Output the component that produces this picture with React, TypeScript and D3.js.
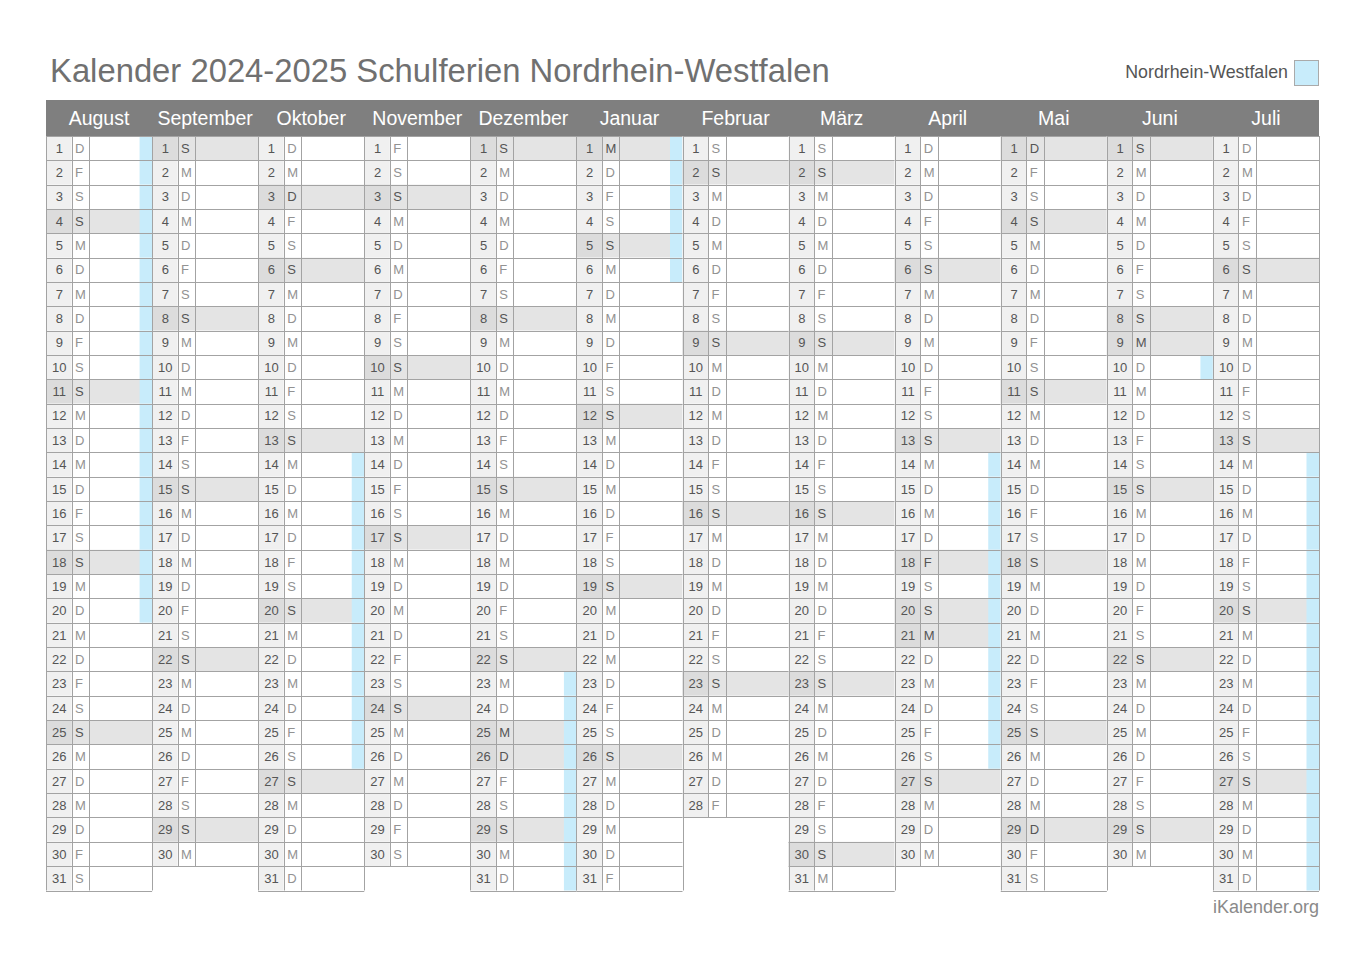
import React from "react";
import * as d3 from "d3";

const TITLE = "Kalender 2024-2025 Schulferien Nordrhein-Westfalen";
const LEGEND_LABEL = "Nordrhein-Westfalen";
const FOOTER = "iKalender.org";

const MONTH_NAMES = ["August", "September", "Oktober", "November", "Dezember", "Januar", "Februar", "März", "April", "Mai", "Juni", "Juli"];
const MONTH_YEARS = [2024, 2024, 2024, 2024, 2024, 2025, 2025, 2025, 2025, 2025, 2025, 2025];
const MONTH_INDEX = [7, 8, 9, 10, 11, 0, 1, 2, 3, 4, 5, 6];
const WEEKDAY_LETTERS = ["S", "M", "D", "M", "D", "F", "S"]; // So..Sa
const PUBLIC_HOLIDAYS = ["2024-10-03", "2024-12-25", "2024-12-26", "2025-01-01", "2025-04-18", "2025-04-21", "2025-05-01", "2025-05-29", "2025-06-09"];
const SCHOOL_HOLIDAY_START = ["2024-07-08", "2024-10-14", "2024-12-23", "2025-04-14", "2025-06-10", "2025-07-14"];
const SCHOOL_HOLIDAY_END = ["2024-08-20", "2024-10-26", "2025-01-06", "2025-04-26", "2025-06-10", "2025-08-26"];
const DAY_NUMBERS = d3.range(1, 32);

const FONT = "'Liberation Sans', Arial, Helvetica, sans-serif";

function iso(y: number, m: number, d: number) {
  return `${y}-${String(m + 1).padStart(2, "0")}-${String(d).padStart(2, "0")}`;
}

export default function App() {
  const x = d3.scaleBand<string>().domain(MONTH_NAMES).range([46, 1319]).padding(0);
  const y = d3.scaleBand<number>().domain(DAY_NUMBERS).range([136, 890.5]).padding(0);
  const colW = x.bandwidth();
  const rowH = y.bandwidth();
  const numW = 25.5;
  const letW = 17.5;
  const stripW = 12.5;

  const holidaySet = new Set(PUBLIC_HOLIDAYS);
  const inSchool = (s: string) =>
    SCHOOL_HOLIDAY_START.some((st, i) => s >= st && s <= SCHOOL_HOLIDAY_END[i]);

  const months = MONTH_NAMES.map((name, i) => {
    const yr = MONTH_YEARS[i];
    const mi = MONTH_INDEX[i];
    const nDays = new Date(Date.UTC(yr, mi + 1, 0)).getUTCDate();
    const days = d3.range(1, nDays + 1).map((d) => {
      const wd = new Date(Date.UTC(yr, mi, d)).getUTCDay();
      const key = iso(yr, mi, d);
      return {
        d,
        letter: WEEKDAY_LETTERS[wd],
        shaded: wd === 0 || holidaySet.has(key),
        school: inSchool(key),
      };
    });
    return { name, days };
  });

  const lineColor = "#a3a3a3";

  return (
    <svg width={1366} height={965} style={{ position: "absolute", left: 0, top: 0, background: "#fff" }} fontFamily={FONT}>
      <text x={50} y={82} fontSize={32.8} fill="#707070">{TITLE}</text>
      <text x={1288} y={78} fontSize={17.8} fill="#555" textAnchor="end">{LEGEND_LABEL}</text>
      <rect x={1294.5} y={60.5} width={24} height={25} fill="#c8ecfb" stroke="#aaa" />

      <rect x={46} y={100} width={1273} height={36} fill="#7f7f7f" />
      {months.map((m) => (
        <text key={m.name} x={(x(m.name) as number) + colW / 2} y={124.5} fontSize={19.5} fill="#fff" textAnchor="middle">{m.name}</text>
      ))}

      {months.map((m) => {
        const x0 = x(m.name) as number;
        const last = m.days.length;
        return (
          <g key={m.name}>
            {m.days.map((dd) => {
              const y0 = y(dd.d) as number;
              return (
                <g key={dd.d}>
                  <rect x={x0} y={y0} width={colW} height={rowH} fill={dd.shaded ? "#e4e4e4" : "#fff"} />
                  <rect x={x0} y={y0} width={numW} height={rowH} fill={dd.shaded ? "#dcdcdc" : "#f0f0f0"} />
                  {dd.school && (
                    <rect x={x0 + colW - stripW} y={y0} width={stripW} height={rowH} fill="#c8ecfb" />
                  )}
                </g>
              );
            })}
            {d3.range(1, last + 2).map((k) => {
              const yy = k <= last ? (y(k) as number) : (y(last) as number) + rowH;
              return <line key={"h" + k} x1={x0} x2={x0 + colW} y1={Math.round(yy) + 0.5} y2={Math.round(yy) + 0.5} stroke={lineColor} strokeWidth={1} />;
            })}
            {[0, numW, numW + letW, colW].map((dx, k) => (
              <line key={"v" + k} x1={Math.round(x0 + dx) + 0.5} x2={Math.round(x0 + dx) + 0.5} y1={y(1) as number} y2={(y(last) as number) + rowH} stroke={lineColor} strokeWidth={1} />
            ))}
            {m.days.map((dd) => {
              const cy = (y(dd.d) as number) + rowH / 2 + 4.6;
              return (
                <g key={"t" + dd.d}>
                  <text x={x0 + numW / 2 + 0.5} y={cy} fontSize={13} fill="#555" textAnchor="middle">{dd.d}</text>
                  <text x={x0 + numW + 3.5} y={cy} fontSize={13} fill={dd.shaded ? "#555" : "#929292"}>{dd.letter}</text>
                </g>
              );
            })}
          </g>
        );
      })}

      <text x={1319} y={913} fontSize={18} fill="#8a8a8a" textAnchor="end">{FOOTER}</text>
    </svg>
  );
}
